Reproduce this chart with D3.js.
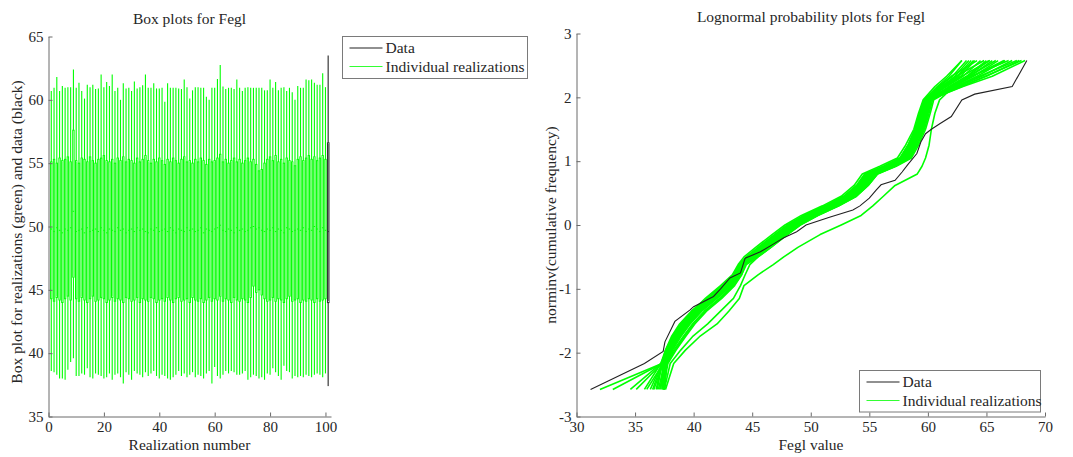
<!DOCTYPE html>
<html>
<head>
<meta charset="utf-8">
<script src="https://cdn.jsdelivr.net/npm/d3@7"></script>
<style>
  body { margin: 0; background: #fff; }
  svg text { font-family: "Liberation Serif", "Times New Roman", serif; fill: #262626; }
</style>
</head>
<body>
<svg id="chart" width="1073" height="457"></svg>
<script>
// ---- box plot data: one entry per realization (1..100) ----
const whiskerHi = [
  60.7, 60.95, 61.8, 60.7, 61.1, 60.95, 61.0, 61.0, 62.4, 60.95,
  61.35, 60.7, 60.1, 61.2, 61.0, 61.2, 60.85, 60.9, 62.0, 61.0,
  61.4, 61.1, 62.0, 60.7, 60.95, 60.0, 61.3, 60.9, 60.95, 60.7,
  61.45, 60.9, 61.0, 61.15, 62.0, 60.95, 60.95, 61.3, 60.9, 60.9,
  60.95, 59.85, 61.3, 60.95, 60.95, 60.95, 60.9, 60.85, 61.6, 61.0,
  60.1, 60.75, 61.0, 61.0, 60.95, 60.95, 60.25, 60.0, 60.95, 60.95,
  61.65, 62.75, 61.05, 60.85, 60.95, 60.95, 60.85, 61.6, 60.95, 60.7,
  60.95, 61.0, 60.95, 60.95, 60.95, 60.95, 60.95, 60.75, 60.75, 61.6,
  60.95, 61.4, 60.75, 60.95, 61.0, 60.7, 60.95, 60.6, 60.0, 61.1,
  60.95, 60.95, 61.6, 61.55, 61.6, 61.35, 61.2, 61.2, 62.1, 61.0
];
const upperQuartile = [
  55.1, 55.3, 55.0, 55.4, 55.2, 55.3, 55.5, 55.1, 57.6, 55.2,
  55.0, 55.4, 55.3, 55.1, 55.5, 55.2, 55.0, 55.3, 55.4, 55.6,
  55.2, 55.1, 55.3, 55.0, 55.4, 55.2, 55.5, 55.1, 55.3, 55.2,
  55.0, 55.4, 55.1, 55.3, 55.6, 55.2, 55.0, 55.3, 55.1, 55.4,
  55.2, 54.9, 55.3, 55.1, 55.4, 55.2, 55.0, 55.3, 55.5, 55.1,
  55.2, 55.0, 55.3, 55.1, 55.4, 55.2, 54.9, 55.3, 55.1, 55.2,
  55.4, 55.7, 55.1, 55.3, 55.0, 55.2, 55.4, 55.1, 55.3, 55.0,
  55.2, 55.4, 55.1, 55.3, 54.9, 54.4, 54.5, 55.0, 55.3, 55.5,
  55.2, 55.6, 55.1, 55.3, 55.0, 55.4, 55.2, 55.1, 54.8, 55.3,
  55.5, 55.2, 55.4, 55.6, 55.3, 55.5, 55.2, 55.4, 55.6, 55.3
];
const medians = [
  49.8, 49.6, 49.9, 49.7, 49.5, 49.8, 49.7, 49.9, 51.2, 49.6,
  49.7, 49.8, 49.5, 49.9, 49.6, 49.7, 49.8, 49.6, 49.9, 49.7,
  49.5, 49.8, 49.7, 49.6, 49.9, 49.7, 49.8, 49.5, 49.7, 49.8,
  49.6, 49.9, 49.7, 49.8, 49.6, 49.5, 49.8, 49.7, 49.9, 49.6,
  49.7, 49.8, 49.6, 49.9, 49.7, 49.5, 49.8, 49.7, 49.6, 49.9,
  49.7, 49.8, 49.6, 49.7, 49.9, 49.5, 49.8, 49.7, 49.6, 49.8,
  49.9, 50.1, 49.7, 49.6, 49.8, 49.7, 49.5, 49.9, 49.7, 49.8,
  49.6, 49.7, 49.9, 50.0, 49.8, 49.9, 49.7, 49.6, 49.8, 49.7,
  49.9, 49.6, 49.8, 49.7, 49.5, 49.9, 49.8, 49.6, 49.7, 49.8,
  49.7, 49.9, 49.6, 49.8, 49.7, 50.0, 49.8, 49.6, 49.9, 49.7
];
const lowerQuartile = [
  44.3, 44.1, 44.4, 44.2, 44.0, 44.3, 44.5, 44.2, 46.0, 44.3,
  44.1, 44.4, 44.2, 44.0, 44.3, 44.5, 44.1, 44.2, 44.4, 44.3,
  44.0, 44.2, 44.4, 44.1, 44.3, 44.2, 44.0, 44.4, 44.3, 44.1,
  44.2, 44.4, 44.0, 44.3, 44.2, 44.1, 44.4, 44.3, 44.0, 44.2,
  44.3, 44.1, 44.4, 44.2, 44.0, 44.3, 44.4, 44.1, 44.2, 44.3,
  44.0, 44.4, 44.2, 44.1, 44.3, 44.0, 44.2, 44.4, 44.1, 44.3,
  44.2, 44.5, 44.1, 44.3, 44.2, 44.0, 44.4, 44.2, 44.1, 44.3,
  44.2, 44.0, 44.4, 45.3, 44.8, 45.0, 44.6, 44.3, 44.1, 44.2,
  44.4, 44.1, 44.3, 44.2, 44.0, 44.3, 44.5, 44.1, 44.2, 44.3,
  44.0, 44.2, 44.1, 44.3, 44.2, 44.0, 44.3, 44.1, 44.2, 44.3
];
const whiskerLo = [
  38.6, 38.5, 38.3, 38.0, 38.0, 37.9, 38.7, 39.3, 39.6, 38.2,
  38.2, 38.4, 38.3, 38.8, 38.1, 38.0, 38.4, 38.3, 38.2, 38.0,
  38.1, 38.4, 37.9, 38.3, 38.4, 38.1, 37.6, 38.5, 38.3, 37.9,
  38.6, 38.4, 38.3, 38.1, 38.5, 38.2, 38.4, 38.6, 38.2, 38.0,
  38.3, 38.2, 38.0, 37.9, 38.1, 38.3, 38.6, 38.2, 38.4, 38.1,
  38.3, 38.5, 38.1, 38.3, 38.2, 38.0, 38.4, 38.6, 37.6, 38.9,
  38.2, 38.0, 38.3, 38.6, 38.4, 38.6, 38.5, 38.3, 38.3, 38.4,
  38.6, 37.9, 38.1, 38.3, 38.2, 38.0, 38.1, 37.9, 38.4, 38.3,
  38.8, 38.5, 38.2, 37.9, 39.0, 38.6, 38.5, 38.0, 38.2, 38.1,
  38.2, 38.1, 38.3, 38.2, 38.1, 38.3, 38.4, 38.3, 38.1, 38.4
];
// the measured data, drawn as box number 101
const dataBox = { lo: 37.4, q1: 44.0, med: 49.6, q3: 56.6, hi: 63.5 };

// ---- probability plot: norminv levels shared by the realization curves ----
const zLevels = [-2.576, -2.17, -1.96, -1.75, -1.55, -1.35, -1.15, -0.95, -0.78, -0.62,
  -0.5, -0.35, -0.15, 0.0, 0.15, 0.3, 0.45, 0.62, 0.8, 0.92,
  1.05, 1.25, 1.5, 1.75, 1.96, 2.17, 2.33, 2.576];
const realizationCurves = [
  [36.8, 37.3, 37.6, 38.1, 38.8, 39.8, 41.1, 42.4, 43.4, 43.9, 44.5, 45.5, 46.9, 48.0, 49.4, 51.2, 52.8, 53.9, 54.6, 56.2, 57.6, 58.3, 58.9, 59.3, 59.7, 60.8, 61.8, 62.9],
  [37.2, 37.4, 37.8, 38.4, 39.1, 40.1, 41.4, 42.7, 43.6, 44.0, 44.7, 45.8, 47.2, 48.3, 49.8, 51.6, 53.1, 54.2, 54.9, 56.5, 57.9, 58.5, 59.1, 59.5, 59.9, 61.0, 62.1, 63.3],
  [37.5, 37.6, 38.0, 38.6, 39.4, 40.4, 41.7, 42.9, 43.8, 44.1, 44.9, 46.0, 47.4, 48.5, 50.0, 51.8, 53.3, 54.3, 55.0, 56.6, 58.0, 58.6, 59.2, 59.6, 59.9, 61.2, 62.5, 63.7],
  [37.4, 37.5, 37.9, 38.5, 39.3, 40.3, 41.6, 42.8, 43.7, 44.1, 44.8, 45.9, 47.3, 48.4, 49.9, 51.7, 53.2, 54.3, 55.1, 56.7, 58.1, 58.7, 59.3, 59.7, 60.0, 61.5, 62.8, 64.0],
  [36.3, 37.3, 37.7, 38.3, 39.0, 40.0, 41.3, 42.6, 43.5, 44.0, 44.6, 45.7, 47.1, 48.2, 49.6, 51.4, 53.0, 54.1, 54.8, 56.4, 57.8, 58.4, 59.0, 59.4, 59.8, 61.6, 63.0, 64.5],
  [37.0, 37.5, 38.1, 38.8, 39.6, 40.6, 41.9, 43.1, 43.9, 44.2, 45.1, 46.2, 47.6, 48.7, 50.2, 52.0, 53.5, 54.5, 55.3, 56.9, 58.2, 58.8, 59.4, 59.8, 60.1, 61.8, 63.3, 65.0],
  [35.8, 37.2, 37.7, 38.2, 38.9, 39.9, 41.2, 42.5, 43.5, 43.9, 44.6, 45.6, 47.0, 48.1, 49.5, 51.3, 52.9, 54.0, 54.7, 56.3, 57.7, 58.4, 59.0, 59.4, 59.8, 62.0, 63.6, 65.5],
  [37.4, 37.6, 38.2, 38.9, 39.7, 40.7, 42.0, 43.2, 44.0, 44.3, 45.2, 46.3, 47.7, 48.8, 50.3, 52.1, 53.6, 54.6, 55.4, 57.0, 58.3, 58.9, 59.5, 59.9, 60.2, 62.2, 63.9, 66.0],
  [35.1, 37.3, 37.8, 38.4, 39.2, 40.2, 41.5, 42.7, 43.6, 44.0, 44.7, 45.8, 47.2, 48.3, 49.8, 51.6, 53.1, 54.2, 55.0, 56.6, 57.9, 58.6, 59.2, 59.6, 59.9, 62.4, 64.2, 66.6],
  [37.5, 37.7, 38.1, 38.7, 39.5, 40.5, 41.8, 43.0, 43.8, 44.2, 45.0, 46.1, 47.5, 48.6, 50.1, 51.9, 53.4, 54.4, 55.2, 56.8, 58.1, 58.7, 59.3, 59.7, 60.0, 62.6, 64.6, 67.2],
  [34.6, 37.2, 37.6, 38.2, 39.0, 40.0, 41.3, 42.6, 43.6, 44.0, 44.6, 45.7, 47.1, 48.2, 49.7, 51.5, 53.0, 54.1, 54.9, 56.5, 57.8, 58.5, 59.1, 59.5, 59.8, 62.8, 65.0, 67.8],
  [33.1, 37.3, 37.9, 38.6, 39.4, 40.4, 41.7, 42.9, 43.8, 44.1, 44.9, 46.0, 47.4, 48.5, 50.0, 51.8, 53.3, 54.4, 55.2, 56.8, 58.1, 58.7, 59.3, 59.7, 60.1, 63.0, 65.5, 68.3],
  [32.0, 37.3, 37.7, 38.3, 39.1, 40.1, 41.4, 42.7, 43.6, 44.0, 44.7, 45.8, 47.2, 48.3, 49.8, 51.6, 53.1, 54.2, 54.9, 56.5, 57.9, 58.5, 59.1, 59.5, 59.9, 61.4, 62.6, 63.9],
  [36.6, 37.4, 38.0, 38.7, 39.5, 40.6, 41.9, 43.1, 43.9, 44.3, 45.1, 46.2, 47.6, 48.7, 50.2, 52.0, 53.5, 54.6, 55.3, 56.9, 58.2, 58.8, 59.5, 59.9, 60.2, 61.9, 63.4, 65.2],
  [37.3, 37.5, 37.9, 38.4, 39.0, 39.9, 41.0, 42.3, 43.3, 43.8, 44.3, 45.3, 46.7, 47.8, 49.2, 51.0, 52.6, 53.7, 54.4, 55.9, 57.4, 58.1, 58.8, 59.2, 59.6, 60.6, 61.6, 62.9],
  [37.1, 37.6, 38.3, 39.1, 39.9, 40.9, 42.2, 43.3, 44.0, 44.4, 45.3, 46.4, 47.8, 48.9, 50.4, 52.2, 53.7, 54.7, 55.5, 57.1, 58.4, 59.0, 59.6, 60.0, 60.3, 61.3, 62.3, 63.5],
  [36.0, 37.4, 37.8, 38.5, 39.3, 40.3, 41.6, 42.8, 43.7, 44.1, 44.8, 45.9, 47.3, 48.4, 49.9, 51.7, 53.2, 54.3, 55.0, 56.6, 58.0, 58.6, 59.2, 59.6, 59.9, 60.9, 62.0, 64.2],
  [37.5, 37.7, 38.4, 39.2, 40.0, 41.0, 42.3, 43.4, 44.1, 44.4, 45.4, 46.5, 47.9, 49.0, 50.5, 52.3, 53.8, 54.8, 55.6, 57.2, 58.5, 59.1, 59.7, 60.1, 60.4, 62.1, 63.7, 66.9],
  [36.9, 37.3, 37.7, 38.2, 38.9, 39.9, 41.2, 42.5, 43.5, 43.9, 44.5, 45.6, 47.0, 48.1, 49.5, 51.3, 52.9, 54.0, 54.7, 56.3, 57.7, 58.3, 58.9, 59.3, 59.7, 61.2, 62.9, 65.3],
  [37.4, 37.8, 38.5, 39.3, 40.1, 41.1, 42.4, 43.5, 44.1, 44.5, 45.5, 46.6, 48.0, 49.1, 50.6, 52.4, 53.9, 54.9, 55.7, 57.3, 58.6, 59.2, 59.8, 60.2, 60.5, 62.5, 64.4, 67.6],
  [36.5, 37.3, 37.8, 38.4, 39.2, 40.2, 41.5, 42.7, 43.6, 44.0, 44.7, 45.8, 47.2, 48.3, 49.8, 51.6, 53.1, 54.2, 54.9, 56.5, 57.9, 58.5, 59.1, 59.5, 59.8, 61.1, 62.4, 64.8],
  [37.5, 37.6, 38.1, 38.7, 39.5, 40.5, 41.8, 43.0, 43.8, 44.2, 45.0, 46.1, 47.5, 48.6, 50.1, 51.9, 53.4, 54.5, 55.2, 56.8, 58.1, 58.8, 59.4, 59.8, 60.1, 62.9, 64.9, 68.0],
  [37.6, 38.3, 39.3, 40.5, 42.0, 43.0, 43.9, 44.3, 45.5, 46.8, 47.7, 48.9, 50.8, 52.6, 54.3, 55.3, 56.2, 57.2, 59.1, 59.5, 59.8, 60.1, 60.3, 60.6, 61.0, 62.2, 63.8, 66.5],
  [37.5, 38.0, 38.9, 39.9, 41.2, 42.3, 43.4, 44.0, 44.4, 44.8, 45.5, 46.6, 48.0, 49.1, 50.6, 52.4, 53.9, 54.9, 55.7, 57.2, 58.4, 59.0, 59.6, 60.0, 60.3, 62.0, 63.5, 65.8]
];
// measured data (black): value and norminv of its cumulative frequency
const dataValue = [31.2, 35.8, 37.4, 37.55, 38.4, 39.7, 40.0, 41.7, 42.3, 43.1, 44.0, 44.4,
  45.7, 46.8, 47.7, 48.8, 49.6, 51.6, 53.6, 54.2, 55.0, 55.6, 56.0, 57.2, 57.8, 58.3,
  59.06, 59.4, 59.8, 60.3, 61.05, 62.0, 62.9, 64.0, 67.2, 68.45];
const dataZ = [-2.576, -2.17, -1.98, -1.83, -1.51, -1.33, -1.28, -1.12, -1.0, -0.83, -0.75, -0.52,
  -0.42, -0.3, -0.2, -0.105, 0.0, 0.12, 0.235, 0.3, 0.42, 0.55, 0.63, 0.7, 0.83, 0.95,
  1.12, 1.3, 1.43, 1.5, 1.59, 1.7, 1.96, 2.05, 2.17, 2.576];

const legendLabels = ["Data", "Individual realizations"];
const boxTicksX = [0, 20, 40, 60, 80, 100];
const boxTicksY = [35, 40, 45, 50, 55, 60, 65];
const probTicksX = [30, 35, 40, 45, 50, 55, 60, 65, 70];
const probTicksY = [-3, -2, -1, 0, 1, 2, 3];

const green = "#00ff00";
const axisColor = "#6a6a6a";
const svg = d3.select("#chart");

// ===================== left: box plots =====================
const x1 = d3.scaleLinear().domain([0, 102]).range([48.5, 331]);
const y1 = d3.scaleLinear().domain([35, 65]).range([416.5, 36.5]);
const halfW = 0.25; // half box width in realization units

const boxes = whiskerHi.map((hi, i) => ({
  n: i + 1, hi: hi, q3: upperQuartile[i], med: medians[i], q1: lowerQuartile[i], lo: whiskerLo[i]
}));

const gBox = svg.append("g");
const drawBox = function (sel, col, whiskCol, boxWidth, whiskWidth) {
  sel.append("line").attr("class", "whisk")
    .attr("x1", d => x1(d.n)).attr("x2", d => x1(d.n))
    .attr("y1", d => y1(d.hi)).attr("y2", d => y1(d.q3))
    .attr("stroke", whiskCol).attr("stroke-width", whiskWidth);
  sel.append("line").attr("class", "whisk")
    .attr("x1", d => x1(d.n)).attr("x2", d => x1(d.n))
    .attr("y1", d => y1(d.q1)).attr("y2", d => y1(d.lo))
    .attr("stroke", whiskCol).attr("stroke-width", whiskWidth);
  sel.append("rect")
    .attr("x", d => x1(d.n - halfW)).attr("width", d => x1(d.n + halfW) - x1(d.n - halfW))
    .attr("y", d => y1(d.q3)).attr("height", d => y1(d.q1) - y1(d.q3))
    .attr("fill", "none").attr("stroke", col).attr("stroke-width", boxWidth);
  sel.append("line")
    .attr("x1", d => x1(d.n - halfW)).attr("x2", d => x1(d.n + halfW))
    .attr("y1", d => y1(d.med)).attr("y2", d => y1(d.med))
    .attr("stroke", col).attr("stroke-width", 1);
};

gBox.selectAll("g.real")
  .data(boxes)
  .join("g").attr("class", "real")
  .call(drawBox, green, green, 1, 1.1);

gBox.selectAll("g.data")
  .data([Object.assign({ n: 101 }, dataBox)])
  .join("g").attr("class", "data")
  .call(drawBox, "#333", "#666", 1.2, 1.6);

// axes
const axBoxX = svg.append("g").attr("transform", `translate(0,${y1(35)})`)
  .call(d3.axisBottom(x1).tickValues(boxTicksX).tickSize(-4).tickSizeOuter(0).tickPadding(5));
const axBoxY = svg.append("g").attr("transform", `translate(${x1(0)},0)`)
  .call(d3.axisLeft(y1).tickValues(boxTicksY).tickSize(-4).tickSizeOuter(0).tickPadding(5));

// ===================== right: probability plot =====================
const x2 = d3.scaleLinear().domain([30, 70]).range([576.5, 1045]);
const y2 = d3.scaleLinear().domain([-3, 3]).range([416.5, 33.5]);
const line2 = d3.line().x(d => x2(d[0])).y(d => y2(d[1]));

svg.append("g").selectAll("path")
  .data(realizationCurves)
  .join("path")
  .attr("d", c => line2(c.map((v, k) => [v, zLevels[k]])))
  .attr("fill", "none")
  .attr("stroke", green)
  .attr("stroke-width", 1.6)
  .attr("stroke-linejoin", "round");

svg.append("path")
  .datum(dataValue.map((v, k) => [v, dataZ[k]]))
  .attr("d", line2)
  .attr("fill", "none")
  .attr("stroke", "#222")
  .attr("stroke-width", 1.1);

const axProbX = svg.append("g").attr("transform", `translate(0,${y2(-3)})`)
  .call(d3.axisBottom(x2).tickValues(probTicksX).tickSize(-4).tickSizeOuter(0).tickPadding(5));
const axProbY = svg.append("g").attr("transform", `translate(${x2(30)},0)`)
  .call(d3.axisLeft(y2).tickValues(probTicksY).tickFormat(d => String(d))
    .tickSize(-4).tickSizeOuter(0).tickPadding(5));

// axis styling
[axBoxX, axBoxY, axProbX, axProbY].forEach(a => {
  a.select(".domain").attr("stroke", axisColor);
  a.selectAll(".tick line").attr("stroke", axisColor);
  a.selectAll(".tick text").attr("font-size", 15).attr("fill", "#262626")
    .attr("font-family", "Liberation Serif, serif");
});

// ===================== titles and labels =====================
const addText = function (x, y, str, rot) {
  const t = svg.append("text").text(str)
    .attr("font-size", 15.5)
    .attr("text-anchor", "middle");
  if (rot) t.attr("transform", `translate(${x},${y}) rotate(-90)`);
  else t.attr("x", x).attr("y", y);
  return t;
};
addText(189.5, 23.5, "Box plots for Fegl");
addText(189.5, 450, "Realization number");
addText(22, 232, "Box plot for realizations (green) and data (black)", true);
addText(811, 21.5, "Lognormal probability plots for Fegl");
addText(811, 450, "Fegl value");
addText(556, 225, "norminv(cumulative frequency)", true);

// ===================== legends =====================
const drawLegend = function (x, y, w, h) {
  const g = svg.append("g").attr("transform", `translate(${x},${y})`);
  g.append("rect").attr("width", w).attr("height", h)
    .attr("fill", "#fff").attr("stroke", "#7a7a7a").attr("stroke-width", 1);
  g.selectAll("line")
    .data(legendLabels)
    .join("line")
    .attr("x1", 7).attr("x2", 40)
    .attr("y1", (d, i) => 11.5 + i * 18.5).attr("y2", (d, i) => 11.5 + i * 18.5)
    .attr("stroke", (d, i) => i === 0 ? "#222" : "#33ff33")
    .attr("stroke-width", 1.2);
  g.selectAll("text")
    .data(legendLabels)
    .join("text")
    .text(d => d)
    .attr("x", 43)
    .attr("y", (d, i) => 16.5 + i * 18.5)
    .attr("font-size", 15.5);
};
drawLegend(342.5, 36.5, 185, 42);
drawLegend(859.5, 370.5, 181, 41.5);
</script>
</body>
</html>
